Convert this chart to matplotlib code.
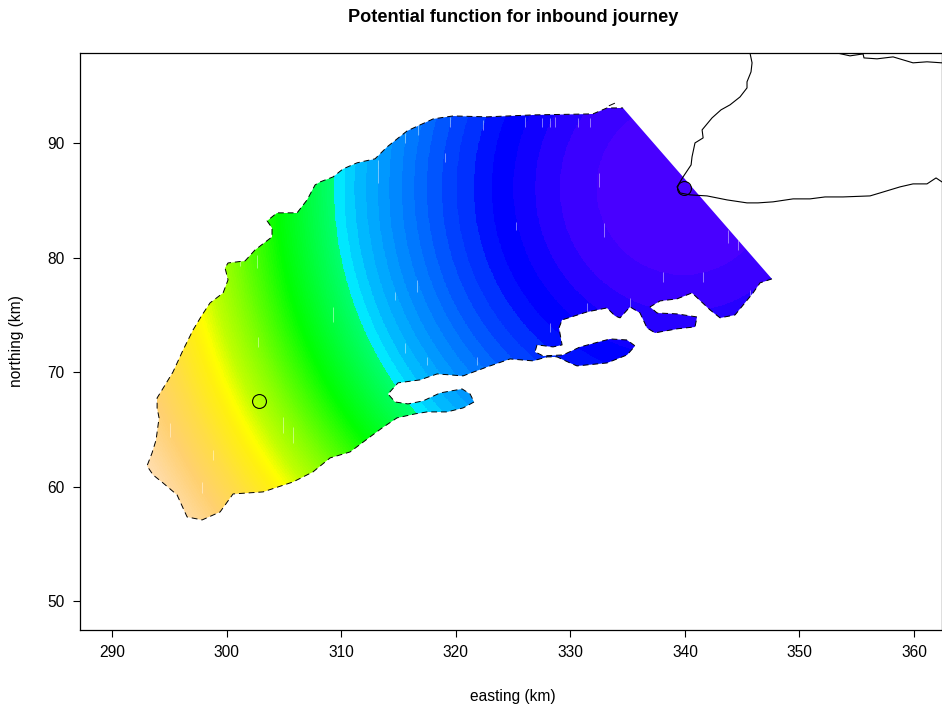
import numpy as np
import matplotlib
matplotlib.use("Agg")
import matplotlib.pyplot as plt
from matplotlib.colors import LinearSegmentedColormap, ListedColormap, BoundaryNorm
from matplotlib.patches import Polygon

plt.rcParams['font.family'] = ['Liberation Sans', 'DejaVu Sans']

# study-area boundary: dashed coast part (km)
coast_x = [347.60, 346.56, 345.95, 344.38, 343.07, 342.19, 340.62, 339.31, 337.83, 336.96, 337.57, 339.31,
           341.06, 340.88, 339.31, 337.39, 336.69, 336.08, 335.21, 334.34, 333.90, 333.20, 331.46, 329.28,
           329.01, 329.28, 328.49, 327.09, 326.92, 327.62, 329.36, 330.85, 333.47, 334.95, 335.65, 334.95,
           333.20, 330.58, 329.97, 328.84, 327.97, 326.74, 324.74, 322.73, 320.64, 318.37, 316.88, 314.96,
           314.09, 314.70, 315.83, 317.14, 318.63, 320.55, 321.25, 321.60, 320.64, 319.24, 317.49, 316.45,
           314.87, 313.57, 312.52, 310.77, 309.03, 307.54, 305.80, 303.18, 300.56, 299.43, 297.86, 296.55,
           295.67, 294.45, 293.58, 293.05, 293.49, 293.84, 294.10, 293.93, 293.93, 294.63, 295.32, 296.20,
           297.07, 297.86, 298.55, 299.69, 300.12, 299.86, 300.12, 301.61, 302.48, 303.96, 303.96, 303.53,
           304.40, 306.15, 307.02, 307.72, 308.15, 309.29, 310.16, 311.38, 312.95, 314.00, 315.75, 318.02,
           319.76, 322.73, 326.74, 331.98, 333.20, 334.60]
coast_y = [78.16, 77.81, 76.93, 75.01, 74.75, 75.45, 76.93, 76.41, 76.23, 75.71, 75.18, 75.10,
           74.83, 73.96, 73.79, 73.44, 73.87, 75.18, 75.71, 74.75, 74.92, 75.62, 75.27, 74.57,
           73.87, 72.39, 72.21, 72.39, 71.78, 71.43, 71.51, 72.21, 72.91, 72.82, 72.30, 71.51,
           70.81, 70.55, 70.81, 71.34, 71.34, 70.99, 71.16, 70.46, 69.68, 69.85, 69.33, 69.07,
           68.10, 67.40, 67.23, 67.49, 68.19, 68.54, 68.10, 67.40, 66.88, 66.53, 66.53, 66.36,
           66.01, 65.13, 64.35, 63.03, 62.51, 61.29, 60.41, 59.54, 59.36, 57.79, 57.09, 57.35,
           59.28, 60.32, 61.02, 61.81, 62.95, 64.08, 66.01, 66.88, 67.75, 68.89, 70.03, 71.95,
           73.70, 75.01, 76.06, 76.93, 78.07, 79.12, 79.55, 79.73, 80.69, 81.83, 82.61, 83.23,
           83.93, 83.93, 85.06, 86.37, 86.63, 87.07, 87.77, 88.30, 88.65, 89.69, 91.09, 92.14,
           92.40, 92.32, 92.49, 92.58, 93.10, 93.10]

# small islet stroke north of the boundary (km)
islet_x = [333.40, 333.85]
islet_y = [93.30, 93.50]

# land outline outside the study area (km)
shore1_x = [345.68, 345.86, 345.77, 345.42, 345.42, 344.81, 343.94, 343.15, 342.37, 341.50, 341.59, 340.88,
            340.62, 340.54, 339.84, 339.31, 339.58, 340.45, 341.93, 343.68, 345.42, 346.38, 347.69, 349.44,
            350.92, 352.23, 353.80, 356.16, 357.03, 358.78, 359.91, 361.13, 361.92, 362.44]
shore1_y = [97.90, 97.04, 96.25, 95.38, 94.85, 94.06, 93.37, 92.93, 92.23, 91.18, 90.48, 90.04,
            88.82, 88.12, 87.07, 86.20, 85.67, 85.50, 85.41, 85.06, 84.80, 84.80, 84.89, 85.15,
            85.15, 85.32, 85.32, 85.41, 85.67, 86.20, 86.46, 86.46, 86.98, 86.63]
shore2_x = [353.28, 354.41, 355.55, 355.63, 356.77, 358.17, 359.91, 361.13, 362.44]
shore2_y = [97.90, 97.65, 97.82, 97.47, 97.39, 97.56, 97.04, 97.13, 97.04]

# journey end points (km)
point_x = [339.88, 302.80]
point_y = [86.11, 67.45]

# visible rings of the potential, by distance from the destination (km)
ring_edges = [0.0, 7.6, 10.8, 12.95, 14.85, 16.75, 18.3, 19.8, 21.1, 22.4, 23.5, 24.6, 25.7, 26.7, 27.7,
              28.7, 29.6, 30.5]
ring_colors = ['#4800FF', '#3A00FF', '#2600FF', '#1000FF', '#0000FF', '#0010FF', '#0030FF', '#0040FF',
               '#0055FF', '#0068FF', '#0078FF', '#0088FF', '#0098FF', '#00A8FF', '#00B8FF', '#00D0FF',
               '#00E8FF']
# smooth shading beyond the cyan edge
outer_r = [30.5, 35.5, 37.0, 39.6, 42.0, 43.5, 44.5, 47.0, 49.6, 52.5, 56.0]
outer_c = ['#00FF70', '#00FF00', '#30FF00', '#80FF00', '#C0FF00', '#FFFF00', '#FFF010', '#FFDD45',
           '#FFD070', '#FFDCAA', '#FFDFB0']

# thin pale streaks in the raster: x, y start, y end (km)
streak_x = [332.5, 332.94, 316.62, 319.06, 313.2, 315.57, 316.7, 319.5, 322.38, 326.05, 327.53, 328.2, 328.67,
            330.67, 331.72, 325.26, 314.7, 315.57, 317.5, 321.86, 328.2, 331.46, 335.2, 338.1, 341.6, 343.77,
            344.6, 345.7, 302.66, 301.17, 309.3, 304.9, 305.8, 298.8, 295.06, 297.86, 302.74]
streak_y0 = [87.43, 83.05, 78.07, 89.17, 88.56, 90.92, 91.62, 92.3, 92.07, 92.3, 92.2, 92.2, 92.3,
             92.2, 92.2, 83.14, 77.02, 72.56, 71.34, 71.34, 74.31, 76.06, 76.5, 78.8, 78.8, 82.44,
             81.83, 77.2, 80.25, 80.0, 75.7, 66.1, 65.2, 63.2, 65.6, 60.4, 73.1]
streak_y1 = [86.2, 81.83, 77.02, 88.38, 86.55, 90.04, 90.74, 91.45, 91.2, 91.45, 91.45, 91.45, 91.45,
             91.45, 91.45, 82.44, 76.32, 71.69, 70.64, 70.64, 73.52, 75.27, 75.6, 77.9, 77.9, 81.3,
             80.7, 76.06, 79.12, 79.3, 74.4, 64.7, 63.8, 62.35, 64.35, 59.45, 72.2]

xlim = (287.2, 362.44)
ylim = (47.47, 97.9)
xticks = [290, 300, 310, 320, 330, 340, 350, 360]
yticks = [50, 60, 70, 80, 90]

fig = plt.figure(figsize=(9.42, 7.07), dpi=100)
ax = fig.add_axes([80 / 942, 1 - 630 / 707, 862 / 942, 577 / 707])
ax.set_xlim(xlim)
ax.set_ylim(ylim)

# field
gx, gy = np.meshgrid(np.linspace(*xlim, 1400), np.linspace(*ylim, 1000))
dist = np.hypot(gx - point_x[0], gy - point_y[0])
outer_span = outer_r[-1] - outer_r[0]
outer_map = LinearSegmentedColormap.from_list(
    'pot', [((r - outer_r[0]) / outer_span, c) for r, c in zip(outer_r, outer_c)], N=1024)
outer_edges = list(np.arange(outer_r[0] + 0.2, outer_r[-1] + 0.01, 0.2))
band_edges = ring_edges + outer_edges
outer_steps = [ring_edges[-1]] + outer_edges
outer_colors = [outer_map(((a + b) / 2 - outer_r[0]) / outer_span)
                for a, b in zip(outer_steps[:-1], outer_steps[1:])]
cmap = ListedColormap(ring_colors + outer_colors)
norm = BoundaryNorm(band_edges, cmap.N)
clip = Polygon(np.column_stack([coast_x, coast_y]), closed=True, transform=ax.transData,
               fc='none', ec='none')
ax.add_patch(clip)
mesh = ax.pcolormesh(gx, gy, dist, cmap=cmap, norm=norm, shading='auto', rasterized=True, zorder=1)
mesh.set_clip_path(clip)

streaks = ax.vlines(streak_x, streak_y1, streak_y0, color='white', alpha=0.45, lw=0.7, zorder=1.5)
streaks.set_clip_path(clip)

ax.plot(coast_x, coast_y, color='black', lw=0.7, ls=(0, (6, 4)), zorder=2)
ax.plot(islet_x, islet_y, color='black', lw=0.7, zorder=2)
ax.plot(shore1_x, shore1_y, color='black', lw=0.8, zorder=3)
ax.plot(shore2_x, shore2_y, color='black', lw=0.8, zorder=3)
ax.plot(point_x, point_y, ls='none', marker='o', ms=10, mfc='none', mec='black', mew=0.8, zorder=4)

ax.set_xticks(xticks)
ax.set_yticks(yticks)
ax.tick_params(axis='both', length=5, width=0.8, labelsize=11.2, pad=6, color='black')
for s in ax.spines.values():
    s.set_linewidth(0.9)

fig.text(513 / 942, 1 - 17.5 / 707, 'Potential function for inbound journey', ha='center', va='center',
         fontsize=13.1, fontweight='bold')
fig.text(513 / 942, 1 - 696 / 707, 'easting (km)', ha='center', va='center', fontsize=11.2)
fig.text(17 / 942, 1 - 341 / 707, 'northing (km)', ha='center', va='center', rotation=90, fontsize=11.2)

fig.savefig('out.png', dpi=100)
